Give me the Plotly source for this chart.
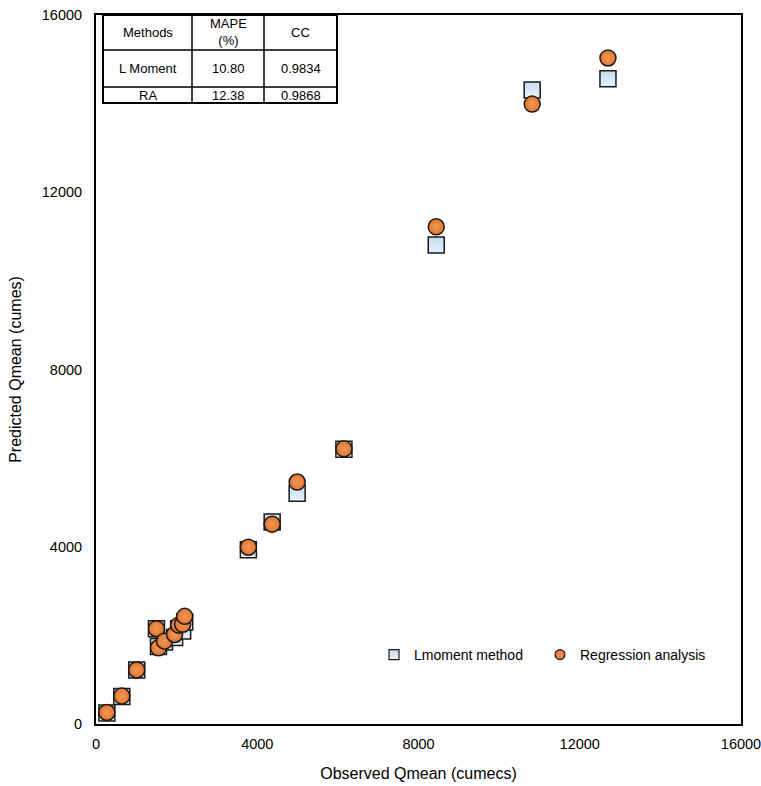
import plotly.graph_objects as go

# Observed Qmean (cumecs)
observed = [270, 640, 1010, 1500, 1550, 1700, 1950, 2050, 2150, 2200,
            3780, 4370, 4990, 6150, 8440, 10820, 12700]
# Predicted by L-moment method
lmoment = [250, 620, 1220, 2150, 1750, 1850, 1950, 2150, 2100, 2300,
           3930, 4560, 5210, 6200, 10810, 14310, 14560]
# Predicted by regression analysis
regression = [260, 630, 1220, 2150, 1720, 1870, 2020, 2230, 2250, 2430,
              3990, 4510, 5460, 6210, 11220, 13990, 15030]

tick_vals = [0, 4000, 8000, 12000, 16000]
tick_text = ["0", "4000", "8000", "12000", "16000"]

table_header = ["Methods", "MAPE<br>(%)", "CC"]
table_rows = [["L Moment", "10.80", "0.9834"],
              ["RA", "12.38", "0.9868"]]

FONT = "Liberation Sans, Arial, sans-serif"

sq_marker = dict(symbol="square", size=16, color="#c6dcf0",
                 gradient=dict(type="vertical", color="#e8f1fa"),
                 line=dict(color="#1a1a1a", width=1.5))
ci_marker = dict(symbol="circle", size=16, color="#e4742c",
                 gradient=dict(type="radial", color="#f09a5a"),
                 line=dict(color="#1a1a1a", width=1.5))

fig = go.Figure()
fig.add_trace(go.Scatter(x=observed, y=lmoment, mode="markers",
                         name="Lmoment method", marker=sq_marker,
                         showlegend=False))
fig.add_trace(go.Scatter(x=observed, y=regression, mode="markers",
                         name="Regression analysis", marker=ci_marker,
                         showlegend=False))
# legend entries with smaller symbols, as in the original
fig.add_trace(go.Scatter(x=[None], y=[None], mode="markers", name="Lmoment method",
                         marker=dict(sq_marker, size=10, line=dict(color="#1a1a1a", width=1.2))))
fig.add_trace(go.Scatter(x=[None], y=[None], mode="markers", name="Regression analysis",
                         marker=dict(ci_marker, size=10, line=dict(color="#1a1a1a", width=1.2))))

L, W, H, BOT = 96, 645, 709, 724
def px(x):
    return (x - L) / W
def py(y):
    return (BOT - y) / H

cols = [103, 192, 264, 337]
rows = [15, 50, 87, 103]
shapes = []
shapes.append(dict(type="rect", xref="paper", yref="paper",
                   x0=px(cols[0]), x1=px(cols[-1]), y0=py(rows[-1]), y1=py(rows[0]),
                   line=dict(color="black", width=2), fillcolor="white", layer="below"))
for c in cols[1:-1]:
    shapes.append(dict(type="line", xref="paper", yref="paper",
                       x0=px(c), x1=px(c), y0=py(rows[-1]), y1=py(rows[0]),
                       line=dict(color="black", width=1.5)))
for r in rows[1:-1]:
    shapes.append(dict(type="line", xref="paper", yref="paper",
                       x0=px(cols[0]), x1=px(cols[-1]), y0=py(r), y1=py(r),
                       line=dict(color="black", width=1.5)))

annotations = []
all_rows = [table_header] + table_rows
for ri, row in enumerate(all_rows):
    yc = (rows[ri] + rows[ri + 1]) / 2
    for ci, txt in enumerate(row):
        xc = (cols[ci] + cols[ci + 1]) / 2
        annotations.append(dict(x=px(xc), y=py(yc), xref="paper", yref="paper",
                                text=txt, showarrow=False,
                                font=dict(family=FONT, size=13, color="black"),
                                xanchor="center", yanchor="middle"))

FIG_W, FIG_H = 761, 786
fig.update_layout(
    width=FIG_W, height=FIG_H,
    margin=dict(l=96, r=FIG_W - 741, t=15, b=FIG_H - 724, autoexpand=False),
    paper_bgcolor="white", plot_bgcolor="white",
    font=dict(family=FONT, size=14, color="black"),
    shapes=shapes, annotations=annotations,
    showlegend=True,
    legend=dict(orientation="h", x=px(374), y=py(655), xanchor="left", yanchor="middle",
                bgcolor="rgba(0,0,0,0)", font=dict(family=FONT, size=14),
                itemwidth=30, entrywidth=121, entrywidthmode="pixels"),
    xaxis=dict(range=[0, 16000], tickvals=tick_vals, ticktext=tick_text,
               showgrid=False, zeroline=False, showline=True, mirror=True,
               linecolor="black", linewidth=2, ticks="", automargin=False,
               ticklabelstandoff=6, ticklabeloverflow="allow",
               title=dict(text="Observed Qmean (cumecs)", font=dict(size=16), standoff=16),
               tickfont=dict(size=14.5)),
    yaxis=dict(range=[0, 16000], tickvals=tick_vals, ticktext=tick_text,
               showgrid=False, zeroline=False, showline=True, mirror=True,
               linecolor="black", linewidth=2, ticks="", automargin=False,
               ticklabelstandoff=9, ticklabeloverflow="allow",
               title=dict(text="Predicted Qmean (cumes)", font=dict(size=16), standoff=16),
               tickfont=dict(size=14.5)),
)

# remove the default page margin so the figure fills the window exactly
fig.write_html("out.html",
               config={"displayModeBar": False},
               post_script="document.body.style.margin='0';document.body.style.overflow='hidden';")
